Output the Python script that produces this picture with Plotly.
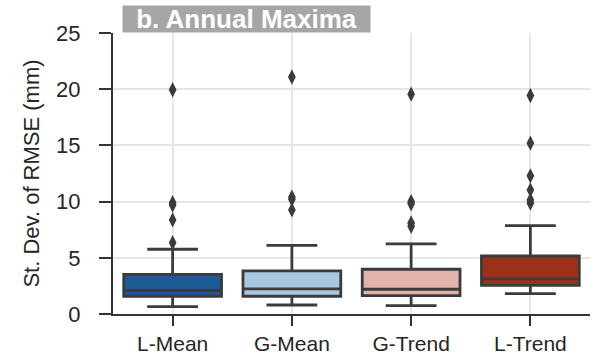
import plotly.graph_objects as go

# Box statistics per model (St. Dev. of RMSE, mm)
categories = ["L-Mean", "G-Mean", "G-Trend", "L-Trend"]
q1 = [1.58, 1.58, 1.63, 2.55]
median = [2.11, 2.23, 2.20, 3.12]
q3 = [3.53, 3.83, 3.98, 5.16]
lower_whisker = [0.65, 0.80, 0.74, 1.81]
upper_whisker = [5.76, 6.11, 6.23, 7.86]

# Outlying values beyond the whiskers
outliers = {
    "L-Mean": [19.95, 9.9, 9.7, 8.37, 6.35],
    "G-Mean": [21.08, 10.4, 10.2, 9.26],
    "G-Trend": [19.56, 10.0, 9.8, 8.1, 7.8],
    "L-Trend": [19.44, 15.2, 12.29, 11.04, 10.15, 9.86],
}

fill_colors = ["#1d5b97", "#a8c8e1", "#e0b4aa", "#9d3019"]
edge = "#3b3b3b"
text_color = "#262626"
font_family = "Liberation Sans, Arial, sans-serif"

fig = go.Figure()

for i, cat in enumerate(categories):
    fig.add_trace(go.Box(
        x=[cat],
        q1=[q1[i]],
        median=[median[i]],
        q3=[q3[i]],
        lowerfence=[lower_whisker[i]],
        upperfence=[upper_whisker[i]],
        fillcolor=fill_colors[i],
        line=dict(color=edge, width=2.8),
        width=0.82,
        whiskerwidth=0.52,
        boxpoints=False,
        showlegend=False,
        hoverinfo="skip",
    ))

for cat in categories:
    vals = outliers[cat]
    fig.add_trace(go.Scatter(
        x=[cat] * len(vals),
        y=vals,
        mode="markers",
        marker=dict(symbol="diamond-tall", size=11, color=edge,
                    line=dict(width=0)),
        showlegend=False,
        hoverinfo="skip",
    ))

fig.add_annotation(
    text="<b>b. Annual Maxima</b>",
    xref="paper", yref="paper",
    x=0.018, y=1.0,
    xanchor="left", yanchor="bottom",
    showarrow=False,
    bgcolor="#a6a6a6",
    width=245, height=24,
    align="center",
    borderpad=1,
    font=dict(family=font_family, size=26, color="white"),
)

fig.update_layout(
    width=594, height=358,
    margin=dict(l=113, r=4, t=33, b=44),
    paper_bgcolor="white",
    plot_bgcolor="white",
    boxmode="overlay",
    font=dict(family=font_family, size=22, color=text_color),
    xaxis=dict(
        type="category",
        categoryorder="array",
        categoryarray=categories,
        range=[-0.5, 3.5],
        automargin=False,
        showgrid=True, gridcolor="#e6e6e6", gridwidth=1.5,
        showline=True, linecolor="#333333", linewidth=2,
        ticks="outside", ticklen=10, tickwidth=2, tickcolor="#333333",
        ticklabelstandoff=0,
        tickfont=dict(size=21, color=text_color),
        zeroline=False,
        fixedrange=True,
    ),
    yaxis=dict(
        range=[0, 25],
        tickvals=[0, 5, 10, 15, 20, 25],
        automargin=False,
        showgrid=True, gridcolor="#e6e6e6", gridwidth=1.5,
        showline=True, linecolor="#333333", linewidth=2,
        ticks="outside", ticklen=12, tickwidth=2, tickcolor="#333333",
        ticklabelstandoff=14,
        tickfont=dict(size=22, color=text_color),
        title=dict(text="St. Dev. of RMSE (mm)", font=dict(size=22, color=text_color), standoff=10),
        zeroline=False,
        fixedrange=True,
    ),
)

fig.write_html("out.html")
